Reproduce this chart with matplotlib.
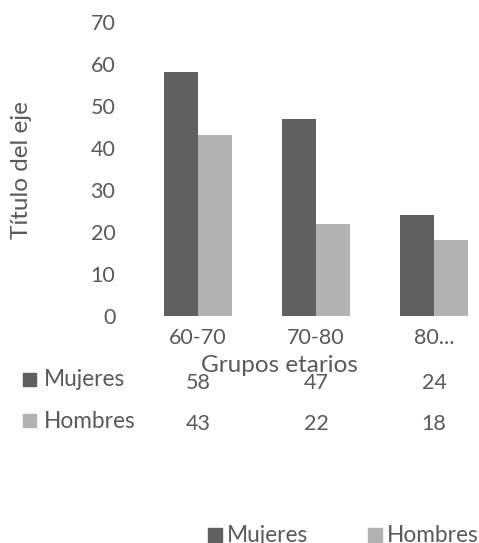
import matplotlib
matplotlib.use("Agg")
import matplotlib.pyplot as plt
from matplotlib.patches import Rectangle
import numpy as np

plt.rcParams['font.family'] = ['Lato', 'DejaVu Sans']

categories = ["60-70", "70-80", "80..."]
series_names = ["Mujeres", "Hombres"]
mujeres = [58, 47, 24]
hombres = [43, 22, 18]
colors = ["#5f5f5f", "#b2b2b2"]
text_color = "#595959"

W, H = 479, 543
fig = plt.figure(figsize=(W / 100, H / 100), dpi=100)


def fx(px):
    return px / W


def fy(py):
    return 1 - py / H


# plot area in pixel coordinates
left, right, top, bottom = 139, 493, 22, 316
ax = fig.add_axes([fx(left), fy(bottom), fx(right - left), (bottom - top) / H])

x = np.arange(len(categories))
bw = 0.288
ax.bar(x - bw / 2, mujeres, bw, color=colors[0], label=series_names[0])
ax.bar(x + bw / 2, hombres, bw, color=colors[1], label=series_names[1])
ax.set_xlim(-0.5, len(categories) - 0.5)
ax.set_ylim(0, 70)
ax.set_yticks(range(0, 71, 10))
ax.tick_params(axis='y', length=0, pad=17, labelsize=15.5, labelcolor=text_color)
ax.set_xticks([])
for s in ax.spines.values():
    s.set_visible(False)

fs = 15.5
fs_name = 16.3
fs_title = 17.5


def col_x(xi):
    return ax.transData.transform((xi, 0))[0] / fig.dpi / fig.get_figwidth()


# category labels and axis titles
for xi, c in zip(x, categories):
    fig.text(col_x(xi), fy(338), c, ha='center', va='center',
             fontsize=fs, color=text_color)
fig.text(fx(279), fy(366), "Grupos etarios", ha='center', va='center',
         fontsize=fs_title, color=text_color)
fig.text(fx(22), fy(170), "Título del eje", ha='center', va='center', rotation=90,
         fontsize=fs_title, color=text_color)

# data table
row_y = [380, 421]
for name, vals, col, ry in zip(series_names, [mujeres, hombres], colors, row_y):
    fig.patches.append(Rectangle((fx(23), fy(ry + 6)), fx(13), 13 / H,
                                 transform=fig.transFigure, color=col))
    fig.text(fx(44), fy(ry), name, ha='left', va='center', fontsize=fs_name,
             color=text_color)
    for xi, v in zip(x, vals):
        fig.text(col_x(xi), fy(ry + 3), str(v), ha='center',
                 va='center', fontsize=fs, color=text_color)

# legend
leg_x = [208, 368]
for name, col, lx in zip(series_names, colors, leg_x):
    fig.patches.append(Rectangle((fx(lx), fy(542)), fx(14), 14 / H,
                                 transform=fig.transFigure, color=col))
    fig.text(fx(lx + 19), fy(535), name, ha='left', va='center', fontsize=fs_name,
             color=text_color)

fig.savefig("out.png", dpi=100)
